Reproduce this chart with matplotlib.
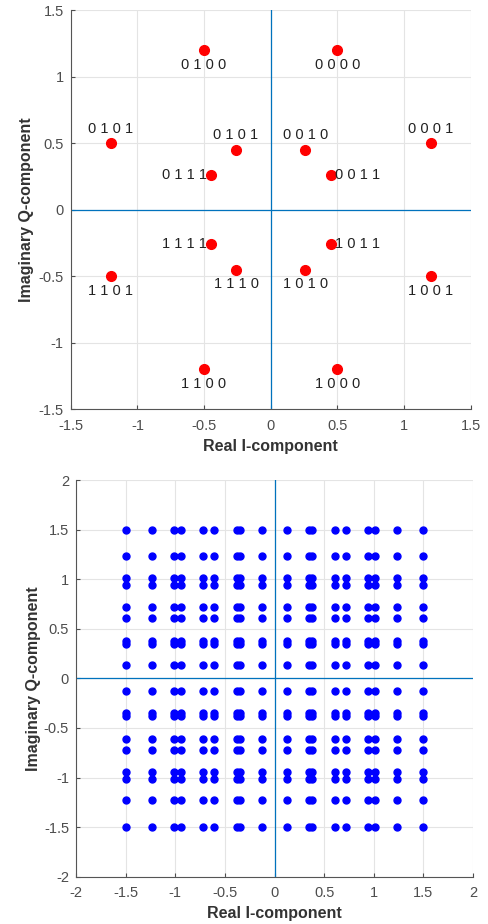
import matplotlib
matplotlib.use('Agg')
import numpy as np
from matplotlib import pyplot as plt

plt.rcParams['font.family'] = ['Liberation Sans', 'DejaVu Sans']

# 1. 16-точечное созвездие (верхний график)
sym_i = [0.5, -0.5, -1.2, 1.2, -0.26, 0.26, -0.45, 0.45,
         -0.45, 0.45, -0.26, 0.26, -1.2, 1.2, -0.5, 0.5]
sym_q = [1.2, 1.2, 0.5, 0.5, 0.45, 0.45, 0.26, 0.26,
         -0.26, -0.26, -0.45, -0.45, -0.5, -0.5, -1.2, -1.2]
bits = ['0 0 0 0', '0 1 0 0', '0 1 0 1', '0 0 0 1', '0 1 0 1', '0 0 1 0', '0 1 1 1', '0 0 1 1',
        '1 1 1 1', '1 0 1 1', '1 1 1 0', '1 0 1 0', '1 1 0 1', '1 0 0 1', '1 1 0 0', '1 0 0 0']
# где ставить подпись относительно точки
label_pos = ['below', 'below', 'above', 'above', 'above', 'above', 'left', 'right',
             'left', 'right', 'below', 'below', 'below', 'below', 'below', 'below']

# 2. уровни решётки 256-точечного созвездия (нижний график)
levels = [-1.5, -1.23, -1.01, -0.94, -0.72, -0.61, -0.375, -0.345, -0.13,
          0.13, 0.345, 0.375, 0.61, 0.72, 0.94, 1.01, 1.23, 1.5]

line_blue = (0, 0.447, 0.741)
tick_gray = '#4d4d4d'


def style_axes(ax, lim, ticks, ylabelpad):
    ax.set_xlim(-lim, lim)
    ax.set_ylim(-lim, lim)
    ax.set_xticks(ticks)
    ax.set_yticks(ticks)
    ax.set_xticklabels(['%g' % t for t in ticks])
    ax.set_yticklabels(['%g' % t for t in ticks])
    ax.grid(True, color='#e4e4e4', linewidth=0.8)
    ax.set_axisbelow(True)
    for s in ['top', 'right']:
        ax.spines[s].set_visible(False)
    for s in ['left', 'bottom']:
        ax.spines[s].set_color('#555555')
        ax.spines[s].set_linewidth(0.8)
    ax.tick_params(direction='in', length=3, labelsize=10.5, colors=tick_gray)
    ax.tick_params(axis='x', pad=7)
    ax.tick_params(axis='y', pad=5)
    ax.axhline(0, color=line_blue, linewidth=0.9, zorder=1)
    ax.axvline(0, color=line_blue, linewidth=0.9, zorder=1)
    ax.set_xlabel('Real I-component', fontsize=11.5, fontweight='bold', color='#333333', labelpad=4)
    ax.set_ylabel('Imaginary Q-component', fontsize=11.5, fontweight='bold', color='#333333',
                  labelpad=ylabelpad)


fig = plt.figure(figsize=(4.89, 9.24), dpi=100)

ax1 = fig.add_axes([0.1446, 0.557, 0.818, 0.432])
style_axes(ax1, 1.5, [-1.5, -1, -0.5, 0, 0.5, 1, 1.5], 3)
ax1.plot(sym_i, sym_q, 'o', color='red', markersize=7, zorder=3)
for x, y, t, p in zip(sym_i, sym_q, bits, label_pos):
    if p == 'below':
        ax1.text(x, y - 0.11, t, ha='center', va='center', fontsize=10.5, color='#222222')
    elif p == 'above':
        ax1.text(x, y + 0.11, t, ha='center', va='center', fontsize=10.5, color='#222222')
    elif p == 'left':
        ax1.text(x - 0.03, y, t, ha='right', va='center', fontsize=10.5, color='#222222')
    else:
        ax1.text(x + 0.03, y, t, ha='left', va='center', fontsize=10.5, color='#222222')

ax2 = fig.add_axes([0.1554, 0.0512, 0.812, 0.4293])
style_axes(ax2, 2, [-2, -1.5, -1, -0.5, 0, 0.5, 1, 1.5, 2], 2)
gi, gq = np.meshgrid(levels, levels)
ax2.plot(gi.ravel(), gq.ravel(), 'o', color='blue', markersize=5, zorder=3)

fig.savefig('out.png', dpi=100)
